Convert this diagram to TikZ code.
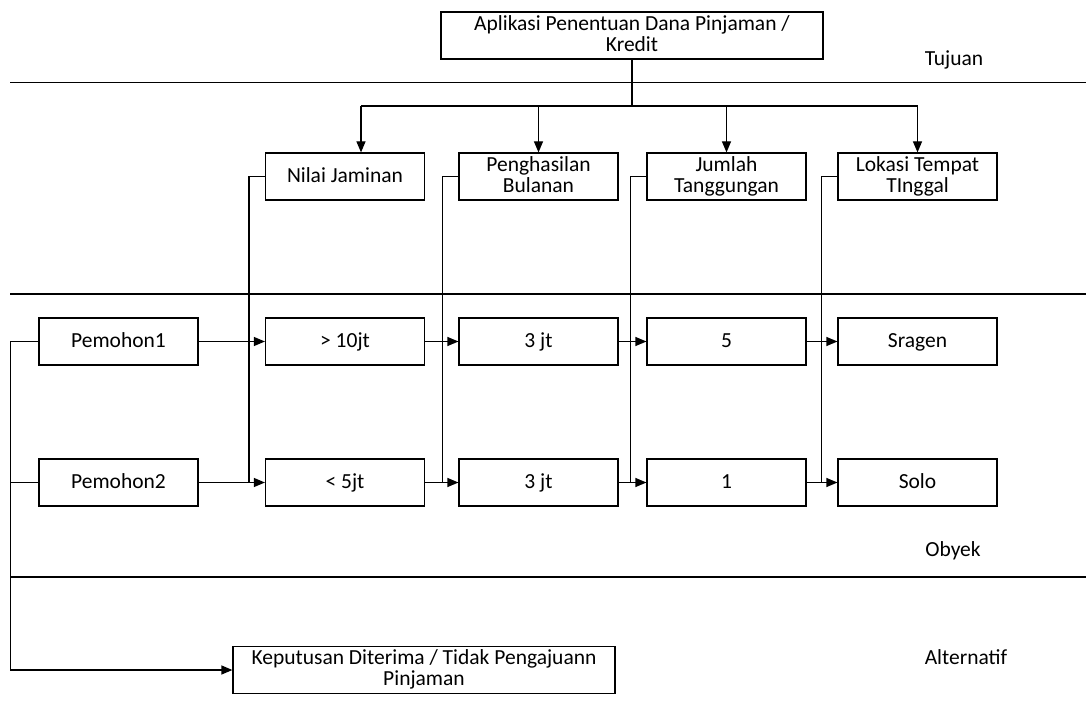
\documentclass[tikz,border=0pt]{standalone}
\usepackage{fontspec}
\setmainfont{Carlito}
\usetikzlibrary{arrows.meta,positioning}

\newcommand{\tegak}{\rule[-4.3pt]{0pt}{21pt}}
\tikzset{
  kotak/.style={draw,line width=1.2pt,minimum width=159pt,minimum height=47pt,
    inner sep=1pt,align=center,font=\fontsize{21.5}{21}\selectfont,
    execute at begin node=\tegak,execute at end node=\tegak},
  lebar/.style={kotak,minimum width=382pt},
  tingkat/.style={font=\fontsize{21.5}{21}\selectfont,inner sep=0pt},
  garis/.style={line width=1.2pt}
}

\begin{document}
\begin{tikzpicture}[x=1pt,y=-1pt,>={Triangle[length=11pt,width=9pt]},garis]
\useasboundingbox (0,0) rectangle (1086,711);
% batas tingkat
\foreach \y in {82.5,294,577}
  \draw (10,\y) -- (1086,\y);
\node[tingkat] (tujuan) at (954,60) {Tujuan};
\node[tingkat] (obyek) at (953,551) {Obyek};
\node[tingkat] (alt) at (966,657) {Alternatif};
% tujuan
\node[lebar] (top) at (632,35.5) {Aplikasi Penentuan Dana Pinjaman /\\Kredit};
% kriteria
\node[kotak] (nilai) at (345,176.5) {Nilai Jaminan};
\node[kotak] (gaji) at (538.5,176.5) {Penghasilan\\Bulanan};
\node[kotak] (tangg) at (726.5,176.5) {Jumlah\\Tanggungan};
\node[kotak] (lokasi) at (917.5,176.5) {Lokasi Tempat\\TInggal};
\coordinate (bus) at (632,106);
\coordinate (an) at ([xshift=16pt]nilai.north);
\draw (top) -- (bus);
\draw (bus -| an) -- (bus -| lokasi);
\draw[->] (bus -| an) -- (an);
\foreach \k in {gaji,tangg,lokasi}
  \draw[->] (bus -| \k) -- (\k.north);
% obyek
\node[kotak] (p1) at (118.5,341.5) {Pemohon1};
\node[kotak] (n1) at (345,341.5) {> 10jt};
\node[kotak] (g1) at (538.5,341.5) {3 jt};
\node[kotak] (t1) at (726.5,341.5) {5};
\node[kotak] (l1) at (917.5,341.5) {Sragen};
\node[kotak] (p2) at (118.5,482.5) {Pemohon2};
\node[kotak] (n2) at (345,482.5) {< 5jt};
\node[kotak] (g2) at (538.5,482.5) {3 jt};
\node[kotak] (t2) at (726.5,482.5) {1};
\node[kotak] (l2) at (917.5,482.5) {Solo};
\foreach \a/\b in {p1/n1,n1/g1,g1/t1,t1/l1,p2/n2,n2/g2,g2/t2,t2/l2}
  \draw[->] (\a.east) -- (\b.west);
\foreach \k/\v in {nilai/n2,gaji/g2,tangg/t2,lokasi/l2}
  \draw (\k.west) -- ++(-16,0) coordinate (c) -- (c |- \v.west);
% alternatif
\node[lebar] (kep) at (424,670) {Keputusan Diterima / Tidak Pengajuann\\Pinjaman};
\draw (p1.west) -- ++(-28,0) coordinate (k);
\draw (p2.west) -- (p2.west -| k);
\draw[->] (k) |- (kep.west);
\end{tikzpicture}
\end{document}
